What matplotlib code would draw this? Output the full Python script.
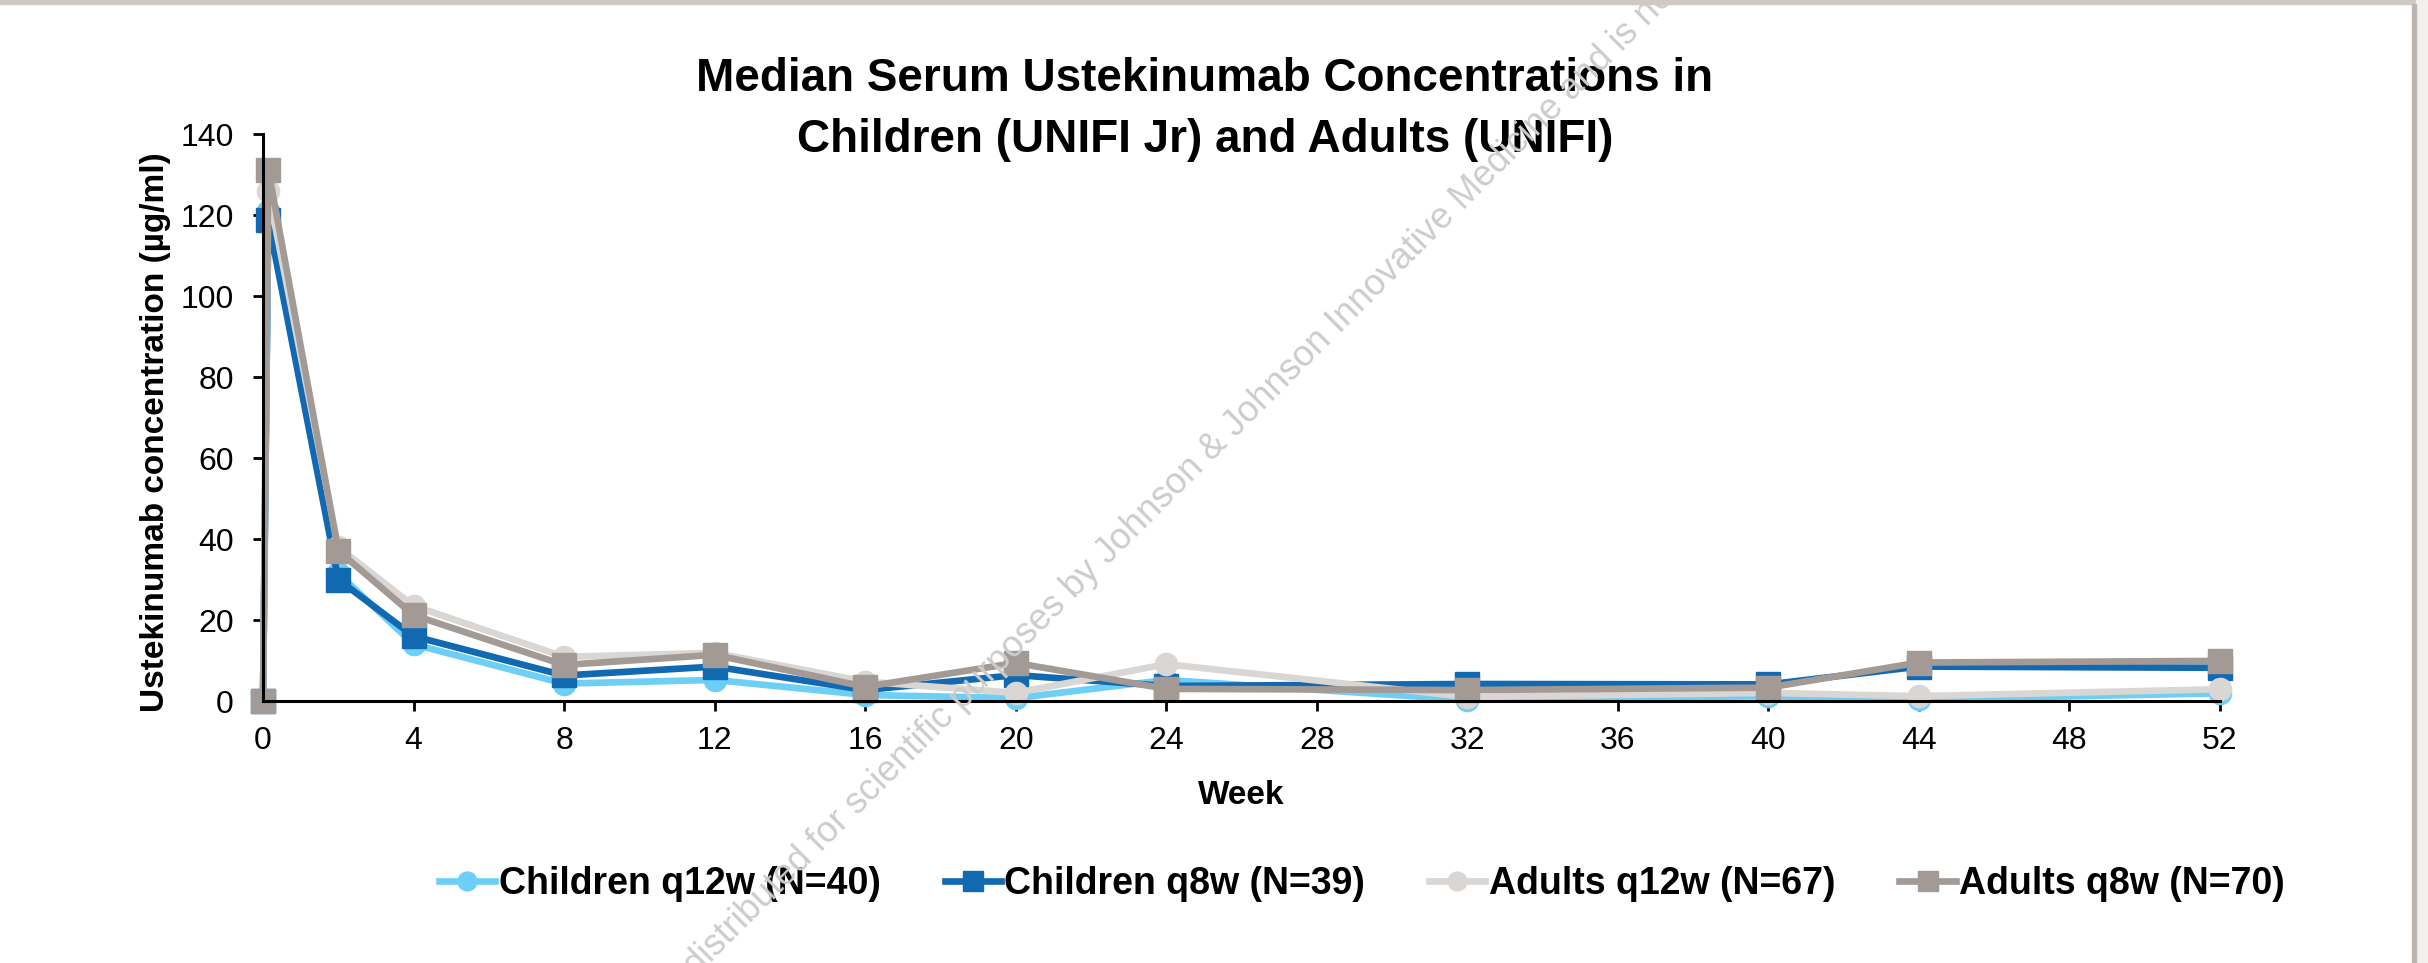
import matplotlib
matplotlib.use("Agg")
import matplotlib.pyplot as plt
from matplotlib.patches import Rectangle

plt.rcParams['font.family'] = ['Liberation Sans', 'DejaVu Sans']

# weeks (second point = shortly after first infusion)
weeks = [0, 0.14, 2, 4, 8, 12, 16, 20, 24, 32, 40, 44, 52]

children_q12w = [0, 121, 31.5, 14, 4.3, 5.2, 1.5, 0.7, 5.2, 0.3, 1.2, 0.4, 1.9]
children_q8w = [0, 118.8, 30, 16, 6.3, 8.5, 2.7, 6.4, 3.7, 4.2, 4.1, 8.5, 8.2]
adults_q12w = [0, 126, 38, 23.5, 10.9, 11.9, 4.8, 2.0, 9.1, 1.0, 2.0, 1.2, 2.9]
adults_q8w = [0, 131.2, 37.1, 21.2, 8.9, 11.4, 3.5, 9.4, 3.0, 2.7, 3.3, 9.5, 9.9]

labels = ['Children q12w (N=40)', 'Children q8w (N=39)',
          'Adults q12w (N=67)', 'Adults q8w (N=70)']
colors = ['#6DCFF6', '#1169B1', '#DAD6D3', '#A39A95']
markers = ['o', 's', 'o', 's']
msizes = [16, 17, 16, 17]
series = [children_q12w, children_q8w, adults_q12w, adults_q8w]

fig = plt.figure(figsize=(24.28, 9.63), dpi=100)
ax = fig.add_axes([263 / 2428, 1 - 701 / 963, (2220 - 263) / 2428, (701 - 134) / 963])

for vals, lab, col, mk, ms in zip(series, labels, colors, markers, msizes):
    ax.plot(weeks, vals, color=col, marker=mk, markersize=ms, linewidth=4.8,
            label=lab, clip_on=False)

ax.set_xlim(0, 52)
ax.set_ylim(0, 140)
ax.set_xticks(range(0, 53, 4))
ax.set_yticks(range(0, 141, 20))
ax.spines['top'].set_visible(False)
ax.spines['right'].set_visible(False)
for s in ['left', 'bottom']:
    ax.spines[s].set_linewidth(2.2)
ax.tick_params(axis='both', direction='out', length=7, width=2, labelsize=23)
ax.tick_params(axis='x', pad=11)
ax.tick_params(axis='y', pad=14)

ax.set_xlabel('Week', fontsize=24, fontweight='bold')
ax.xaxis.set_label_coords(0.5, -0.14)
ax.set_ylabel('Ustekinumab concentration (µg/ml)', fontsize=24, fontweight='bold')
ax.yaxis.set_label_coords(-0.047, 0.474)

fig.text(0.4963, 0.886, 'Median Serum Ustekinumab Concentrations in\nChildren (UNIFI Jr) and Adults (UNIFI)',
         ha='center', va='center', fontsize=33, fontweight='bold', linespacing=1.5)

leg = ax.legend(loc='center', bbox_to_anchor=(1362 / 2428, 1 - 884 / 963),
                bbox_transform=fig.transFigure, ncol=4, frameon=False,
                prop={'size': 27, 'weight': 'bold'}, handlelength=1.5,
                handletextpad=0.1, columnspacing=1.7, markerscale=0.85)

# watermark (cut by the picture edges, as in the source)
wm_color = '#CCCCCC'
px, py = 1205 / 2428, 1 - 455 / 963
fig.text(px, py, 'distributed for scientific purposes by Johnson ', rotation=45,
         rotation_mode='anchor', ha='right', va='center', fontsize=26, color=wm_color)
fig.text(px, py, '& Johnson Innovative Medicine and is no',
         rotation=45, rotation_mode='anchor', ha='left', va='center', fontsize=26, color=wm_color)

# window border
fig.patches.append(Rectangle((0, 1 - 4 / 963), 1, 4 / 963, transform=fig.transFigure,
                             color='#CFC9C4', zorder=10))
fig.patches.append(Rectangle((2416 / 2428, 0), 12 / 2428, 1, transform=fig.transFigure,
                             color='#F2F0EE', zorder=10))
fig.patches.append(Rectangle((2412 / 2428, 0), 4 / 2428, 1 - 4 / 963, transform=fig.transFigure,
                             color='#BDB6B0', zorder=10))

fig.savefig('out.png', dpi=100)
